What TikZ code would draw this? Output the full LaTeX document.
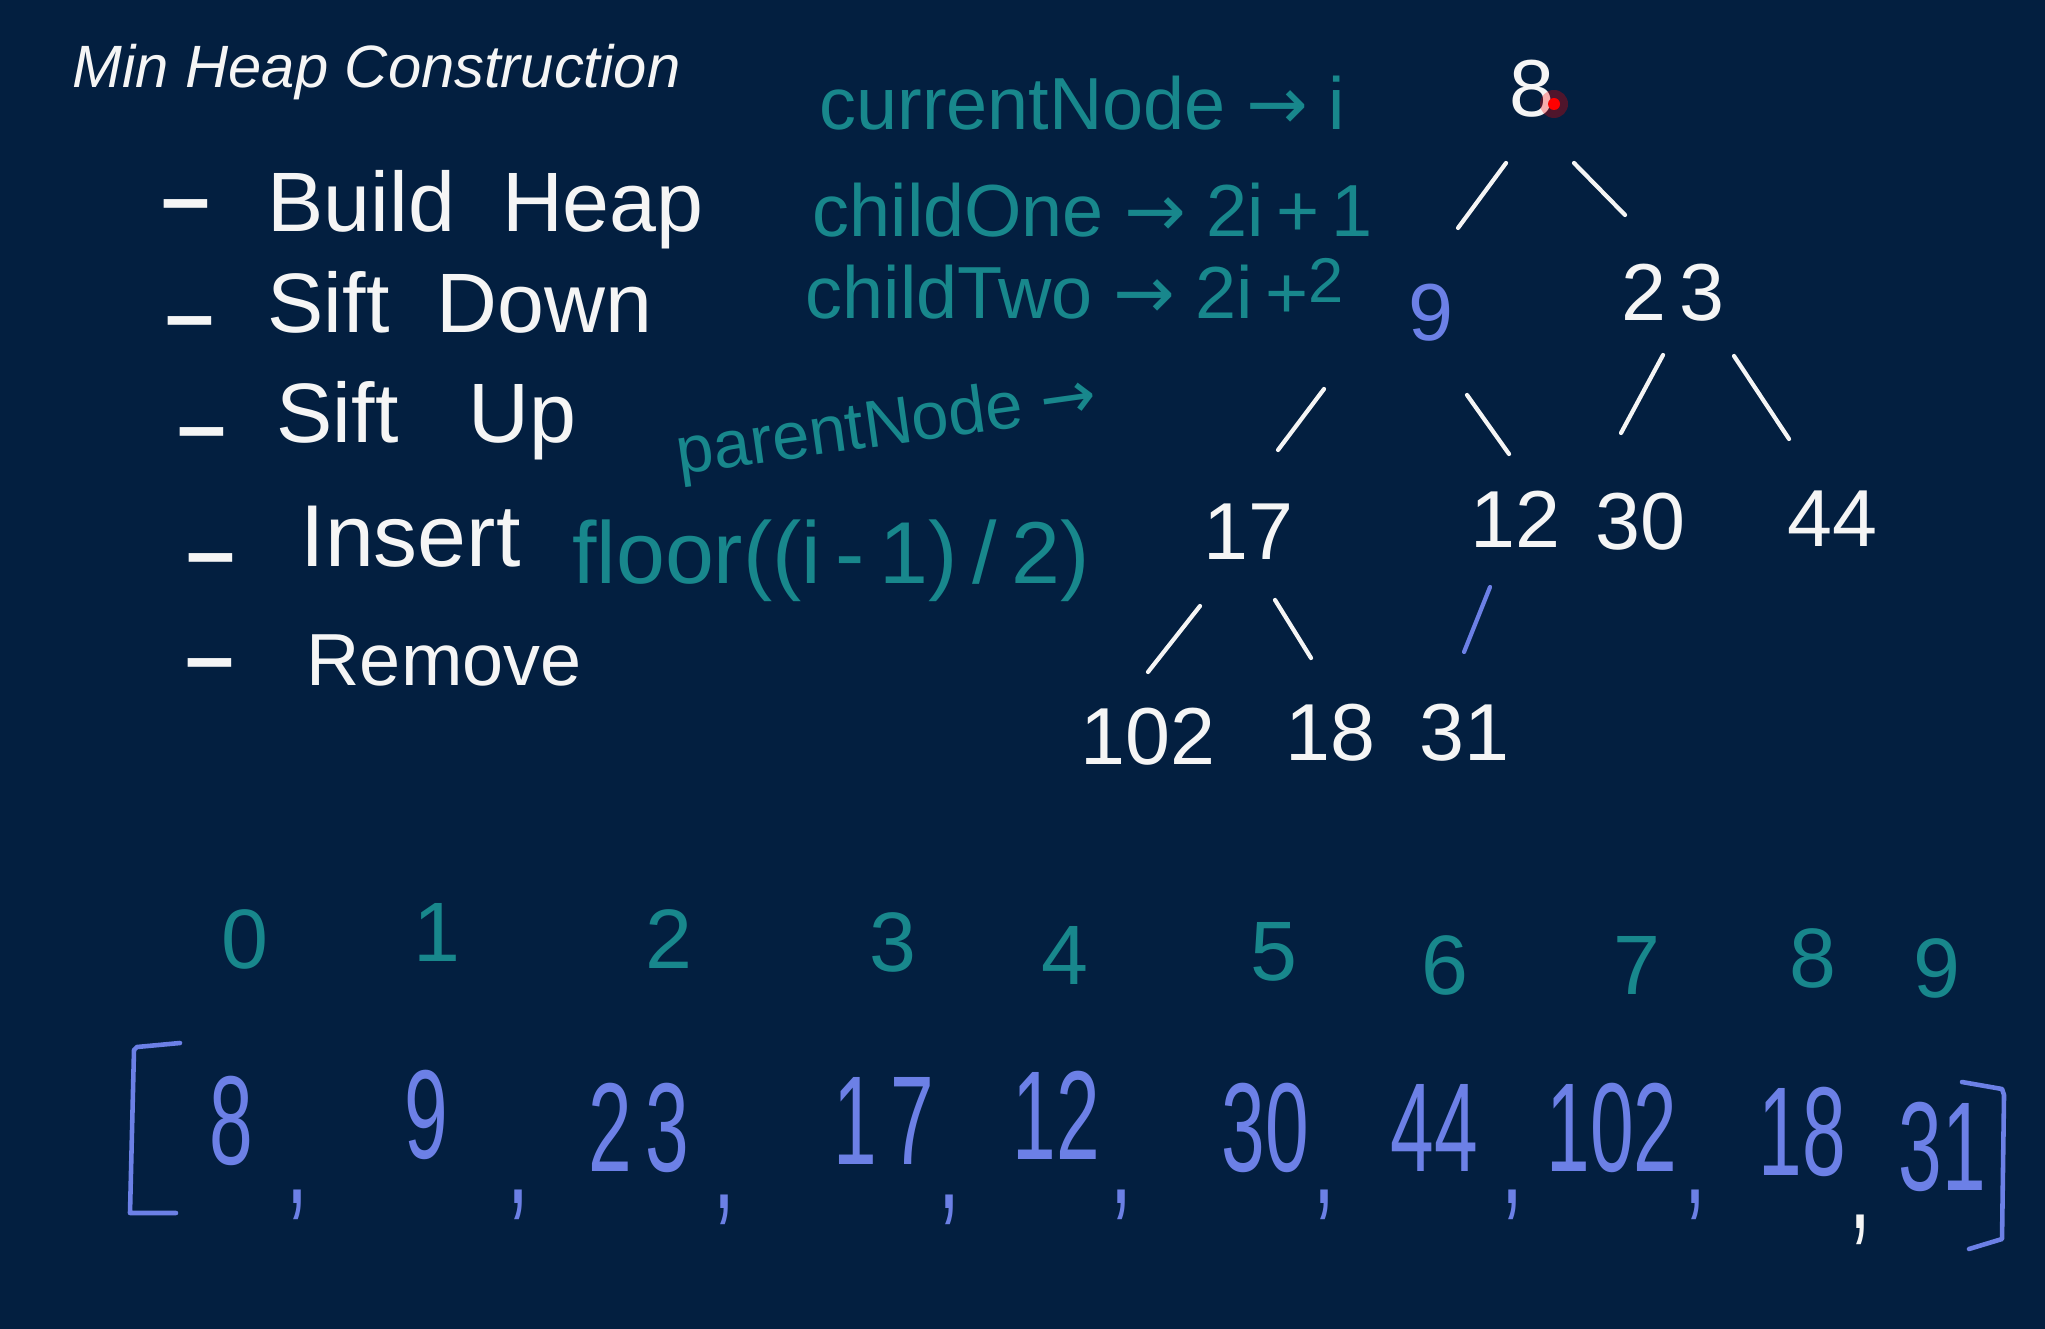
\documentclass[tikz,border=0pt]{standalone}
\usepackage{fontspec}
\setmainfont{Liberation Sans}
\newfontfamily\arrfont{DejaVu Sans}
\usetikzlibrary{calc}
\definecolor{bg}{RGB}{3,31,64}
\definecolor{tealc}{RGB}{24,135,140}
\definecolor{bluec}{RGB}{108,128,230}
\definecolor{chalk}{RGB}{245,245,245}
\newcommand{\fsz}[1]{\fontsize{#1}{#1}\selectfont}
\newcommand{\rarr}{{\arrfont →}}
\begin{document}
\begin{tikzpicture}[
  every node/.style={inner sep=0pt},
  title/.style={text=chalk, font=\fsz{17}\itshape, anchor=base west},
  item/.style={text=chalk, font=\fsz{24}, anchor=base west},
  dashmark/.style={text=chalk, font=\fsz{25}\bfseries},
  note/.style={text=tealc, font=\fsz{21}, anchor=base west},
  tnum/.style={text=chalk, font=\fsz{23}},
  tblue/.style={text=bluec, font=\fsz{23}},
  idx/.style={text=tealc, font=\fsz{24}},
  arr/.style={text=bluec, font=\fsz{36}, xscale=0.62},
  edge/.style={draw=chalk, line width=1.2pt, line cap=round},
  bedge/.style={draw=bluec, line width=1.2pt, line cap=round},
  brk/.style={draw=bluec, line width=1.3pt, line cap=round, line join=round}
]
% background / canvas
\fill[bg] (0,0) rectangle (20.45,-13.29);
\useasboundingbox (0,0) rectangle (20.45,-13.29);

% title
\node[title] (ttl) at (0.72,-0.88) {Min Heap Construction};

% list
\node[dashmark] (d1) at (1.86,-2.14) {–};
\node[dashmark] (d2) at (1.90,-3.31) {–};
\node[dashmark] (d3) at (2.02,-4.42) {–};
\node[dashmark] (d4) at (2.11,-5.68) {–};
\node[dashmark] (d5) at (2.10,-6.73) {–};
\node[item] (i1) at (2.67,-2.32) {Build\ \ Heap};
\node[item] (i2) at (2.67,-3.33) {Sift\ \ Down};
\node[item] (i3) at (2.76,-4.43) {Sift\ \ \ Up};
\node[item, font=\fsz{25}] (i4) at (3.00,-5.67) {Insert};
\node[item, font=\fsz{21}] (i5) at (3.06,-6.85) {Remove};

% teal notes
\node[note] (cn) at (8.19,-1.30) {currentNode \rarr\ i};
\node[note] (c1) at (8.12,-2.37) {childOne \rarr\ 2i\,+\,1};
\node[note] (c2) at (8.05,-3.19) {childTwo \rarr\ 2i\,+\raisebox{0.22em}{\fsz{18}2}};
\node[text=tealc, font=\fsz{19}, rotate=8] (pn) at (8.87,-4.28) {parentNode \rarr};
\node[text=tealc, font=\fsz{25}] (fl) at (8.31,-5.61) {floor((i\,-\,1)\,/\,2)};

% tree
\node[tnum] (r) at (15.32,-0.89) {8};
\coordinate (laser) at (15.54,-1.04);
\fill[red, opacity=0.3] (laser) circle (0.14);
\fill[red] (laser) circle (0.06);
\node[tblue] (n9) at (14.31,-3.13) {9};
\node[tnum] (n23) at (16.73,-2.93) {2\,3};
\node[tnum] (n17) at (12.48,-5.32) {17};
\node[tnum] (n12) at (15.15,-5.19) {12};
\node[tnum] (n30) at (16.40,-5.22) {30};
\node[tnum] (n44) at (18.32,-5.19) {44};
\node[tnum] (n102) at (11.48,-7.37) {102};
\node[tnum] (n18) at (13.30,-7.33) {18};
\node[tnum] (n31) at (14.64,-7.33) {31};

\draw[edge] ([shift={(-0.26,-0.74)}]r.center) -- ([shift={(0.27,0.85)}]n9.center);
\draw[edge] ([shift={(0.42,-0.74)}]r.center) -- ([shift={(-0.48,0.78)}]n23.center);
\draw[edge] ([shift={(-1.07,-0.76)}]n9.center) -- ([shift={(0.30,0.82)}]n17.center);
\draw[edge] ([shift={(0.36,-0.82)}]n9.center) -- ([shift={(-0.06,0.65)}]n12.center);
\draw[edge] ([shift={(-0.10,-0.62)}]n23.center) -- ([shift={(-0.19,0.89)}]n30.center);
\draw[edge] ([shift={(0.61,-0.63)}]n23.center) -- ([shift={(-0.43,0.80)}]n44.center);
\draw[edge] ([shift={(-0.48,-0.74)}]n17.center) -- ([shift={(0.00,0.65)}]n102.center);
\draw[edge] ([shift={(0.27,-0.68)}]n17.center) -- ([shift={(-0.19,0.75)}]n18.center);
\draw[bedge] ([shift={(-0.25,-0.68)}]n12.center) -- ([shift={(0.00,0.81)}]n31.center);

% index row
\node[idx] (x0) at (2.45,-9.39) {0};
\node[idx] (x1) at (4.37,-9.32) {1};
\node[idx] (x2) at (6.69,-9.39) {2};
\node[idx] (x3) at (8.93,-9.42) {3};
\node[idx] (x4) at (10.65,-9.55) {4};
\node[idx] (x5) at (12.74,-9.52) {5};
\node[idx] (x6) at (14.45,-9.65) {6};
\node[idx] (x7) at (16.37,-9.65) {7};
\node[idx] (x8) at (18.13,-9.58) {8};
\node[idx] (x9) at (19.37,-9.68) {9};

% array
\draw[brk] (1.80,-10.43) -- (1.37,-10.47) -- (1.34,-10.50) -- (1.30,-12.13) -- (1.76,-12.13);
\draw[brk] (19.62,-10.82) -- (20.02,-10.89) -- (20.04,-10.95) -- (20.02,-12.39) -- (19.69,-12.49);
\node[arr] (a0) at (2.31,-11.21) {8};
\node[arr] (k0) at (2.97,-12.05) {,};
\node[arr] (a1) at (4.26,-11.15) {9};
\node[arr] (k1) at (5.18,-12.05) {,};
\node[arr] (a2) at (6.39,-11.28) {2\,3};
\node[arr] (k2) at (7.24,-12.10) {,};
\node[arr] (a3) at (8.84,-11.21) {1\,7};
\node[arr] (k3) at (9.49,-12.10) {,};
\node[arr] (a4) at (10.56,-11.15) {12};
\node[arr] (k4) at (11.21,-12.05) {,};
\node[arr] (a5) at (12.65,-11.28) {30};
\node[arr] (k5) at (13.24,-12.05) {,};
\node[arr] (a6) at (14.34,-11.28) {44};
\node[arr] (k6) at (15.12,-12.05) {,};
\node[arr] (a7) at (16.12,-11.28) {102};
\node[arr] (k7) at (16.95,-12.05) {,};
\node[arr] (a8) at (18.02,-11.32) {18};
\node[arr, text=chalk] (k8) at (18.60,-12.30) {,};
\node[arr] (a9) at (19.42,-11.47) {31};
\end{tikzpicture}
\end{document}
